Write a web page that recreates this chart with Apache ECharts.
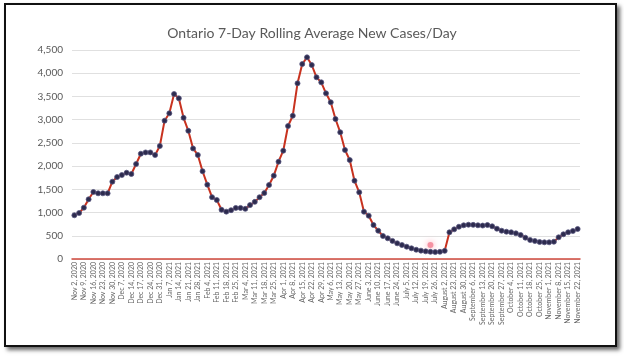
<!DOCTYPE html>
<html><head><meta charset="utf-8">
<script src="https://cdn.jsdelivr.net/npm/echarts@6/dist/echarts.min.js"></script>
<style>
html,body{margin:0;padding:0;background:#fff;width:624px;height:360px;overflow:hidden}
#frame{position:absolute;left:4px;top:3px;width:609px;height:340px;border:2px solid #111;box-shadow:3px 3px 4px rgba(0,0,0,0.6);background:#fff}
#chart{position:absolute;left:0;top:0;width:624px;height:360px}
</style></head>
<body><div id="frame"></div><div id="chart"></div>
<script>
const titleText = 'Ontario 7-Day Rolling Average New Cases/Day';

// labelled categories (every other point)
const tickLabels = [
  'Nov 2, 2020','Nov 9, 2020','Nov 16, 2020','Nov 23, 2020','Nov 30, 2020','Dec 7, 2020','Dec 14, 2020','Dec 17, 2020','Dec 24, 2020','Dec 31, 2020',
  'Jan 7, 2021','Jan 14, 2021','Jan 21, 2021','Jan 28, 2021','Feb 4, 2021','Feb 11, 2021','Feb 18, 2021','Feb 25, 2021',
  'Mar 4, 2021','Mar 11, 2021','Mar 18, 2021','Mar 25, 2021','Apr 1, 2021','Apr 8, 2021','Apr 15, 2021','Apr 22, 2021','Apr 29, 2021',
  'May 6, 2021','May 13, 2021','May 20, 2021','May 27, 2021','June 3, 2021','June 10, 2021','June 17, 2021','June 24, 2021',
  'July 5, 2021','July 12, 2021','July 19, 2021','July 26, 2021','August 2, 2021','August 23, 2021','August 30, 2021',
  'September 6, 2021','September 13, 2021','September 20, 2021','September 27, 2021',
  'October 4, 2021','October 11, 2021','October 18, 2021','October 25, 2021',
  'November 1, 2021','November 8, 2021','November 15, 2021','November 22, 2021'
];
// unlabelled in-between categories
const midDates = [
  'Nov 5, 2020','Nov 12, 2020','Nov 19, 2020','Nov 26, 2020','Dec 3, 2020','Dec 10, 2020','Dec 15, 2020','Dec 21, 2020','Dec 28, 2020',
  'Jan 4, 2021','Jan 11, 2021','Jan 18, 2021','Jan 25, 2021','Feb 1, 2021','Feb 8, 2021','Feb 15, 2021','Feb 22, 2021',
  'Mar 1, 2021','Mar 8, 2021','Mar 15, 2021','Mar 22, 2021','Mar 29, 2021','Apr 5, 2021','Apr 12, 2021','Apr 19, 2021','Apr 26, 2021',
  'May 3, 2021','May 10, 2021','May 17, 2021','May 24, 2021','May 31, 2021','June 7, 2021','June 14, 2021','June 21, 2021','June 28, 2021',
  'July 8, 2021','July 15, 2021','July 22, 2021','July 29, 2021','August 19, 2021','August 26, 2021',
  'September 2, 2021','September 9, 2021','September 16, 2021','September 23, 2021','September 30, 2021',
  'October 7, 2021','October 14, 2021','October 21, 2021','October 28, 2021',
  'November 4, 2021','November 11, 2021','November 18, 2021'
];
const cases = [
  941, 990, 1105, 1285, 1443, 1414, 1414, 1414, 1665, 1765, 1808, 1858, 1830, 2045, 2267, 2295, 2295, 2239, 2433, 2978, 3137, 3552,
  3460, 3040, 2760, 2380, 2240, 1890, 1600, 1330, 1270, 1060, 1020, 1050, 1100, 1100, 1080, 1160, 1230, 1330, 1420,
  1593, 1794, 2095, 2332, 2863, 3085, 3782, 4198, 4342, 4177, 3912, 3804, 3567, 3374, 3014, 2728, 2347, 2131, 1686, 1436, 1018, 932, 732, 609, 495,
  446, 390, 338, 301, 265, 230, 200, 180, 165, 155, 150, 155, 175,
  575, 639, 695, 726, 738, 735, 726, 720, 732, 704, 652, 609, 588, 575, 553, 517, 459, 409, 388, 366, 359, 359, 372, 467, 532, 575, 603, 646
];
// stray highlight dot seen on the picture
const highlightCat = ['July 22, 2021'];
const highlightVal = [300];

const categories = [];
tickLabels.forEach((t, i) => { categories.push(t); if (i < midDates.length) categories.push(midDates[i]); });

const fmt = v => String(v).replace(/\B(?=(\d{3})+(?!\d))/g, ',');
const chart = echarts.init(document.getElementById('chart'), null, {renderer: 'canvas'});
chart.setOption({
  backgroundColor: 'transparent',
  animation: false,
  title: { text: titleText, left: 'center', top: 21,
    textStyle: { fontFamily: 'Lato', fontSize: 14, fontWeight: 'normal', color: '#595959' } },
  grid: { left: 72, right: 44, top: 50, bottom: 101 },
  xAxis: {
    type: 'category', data: categories, boundaryGap: true,
    axisLine: { lineStyle: { color: '#d0483c', width: 1.5 } },
    axisTick: { show: false },
    axisLabel: { interval: 1, rotate: 90, fontSize: 7, color: '#666666', fontFamily: 'Lato', margin: 3 }
  },
  yAxis: {
    type: 'value', min: 0, max: 4500, interval: 500,
    axisLine: { show: false }, axisTick: { show: false },
    splitLine: { lineStyle: { color: '#e0e0e0', width: 1 } },
    axisLabel: { color: '#595959', fontSize: 10, fontFamily: 'Lato', margin: 9, formatter: fmt }
  },
  series: [
    { type: 'line', data: cases, symbol: 'circle', symbolSize: 5, showAllSymbol: true, z: 3,
      lineStyle: { color: '#c8321f', width: 2 },
      itemStyle: { color: '#2d2b4e', borderColor: '#57557f', borderWidth: 0.8 } },
    { type: 'scatter', data: highlightCat.map((c, i) => [c, highlightVal[i]]), symbolSize: 6, z: 2,
      itemStyle: { color: 'rgba(240,110,130,0.85)', shadowBlur: 6, shadowColor: 'rgba(255,90,120,0.9)' } }
  ]
});
</script></body></html>
